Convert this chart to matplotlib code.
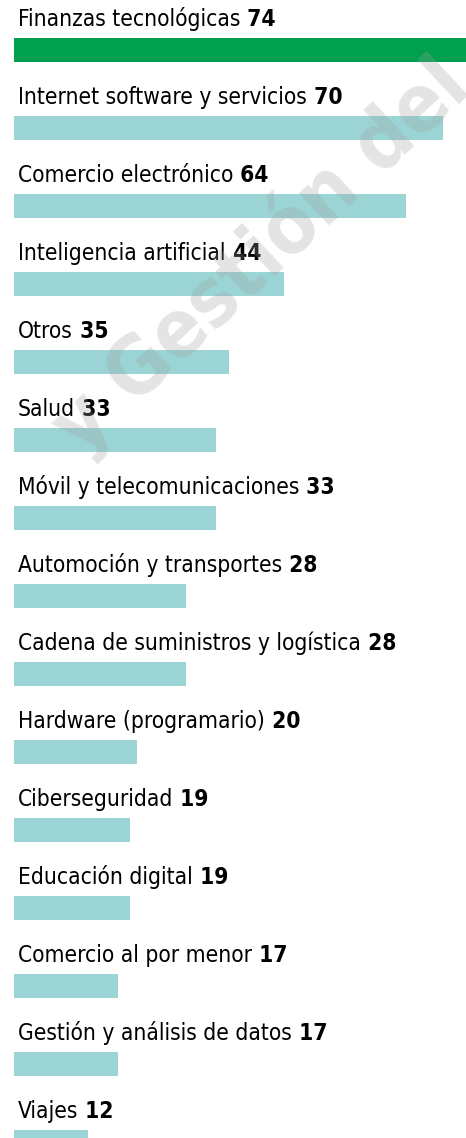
import matplotlib.pyplot as plt
import matplotlib.font_manager as fm

categories = [
    'Finanzas tecnológicas',
    'Internet software y servicios',
    'Comercio electrónico',
    'Inteligencia artificial',
    'Otros',
    'Salud',
    'Móvil y telecomunicaciones',
    'Automoción y transportes',
    'Cadena de suministros y logística',
    'Hardware (programario)',
    'Ciberseguridad',
    'Educación digital',
    'Comercio al por menor',
    'Gestión y análisis de datos',
    'Viajes',
]
values = [74, 70, 64, 44, 35, 33, 33, 28, 28, 20, 19, 19, 17, 17, 12]

GREEN = '#00a04f'
TEAL = '#9bd4d4'


def narrow_font(bold):
    # look for any installed narrow / condensed face
    want = 700 if bold else 400
    best = None
    for f in fm.fontManager.ttflist:
        narrow = ('Narrow' in f.name or 'Condensed' in f.name
                  or f.stretch in ('condensed', 'semi-condensed', 300))
        if not narrow or f.style != 'normal':
            continue
        w = f.weight if isinstance(f.weight, int) else (700 if f.weight == 'bold' else 400)
        score = abs(w - want)
        if best is None or score < best[0]:
            best = (score, f.fname)
    if best is None:
        return fm.FontProperties(family='DejaVu Sans',
                                 weight='bold' if bold else 'normal')
    return fm.FontProperties(fname=best[1])


reg = narrow_font(False)
bld = narrow_font(True)
wm = bld.copy()
reg.set_size(16.3)
bld.set_size(16.3)
wm.set_size(58)

W, H = 466, 1138
fig = plt.figure(figsize=(W / 100, H / 100), dpi=100)
ax = fig.add_axes([0, 0, 1, 1])

px = 6.13   # pixels per unit
row = 78.0  # pixels per row
ax.set_xlim(-14 / px, (W - 14) / px)
ax.set_ylim((H - 50) / row, -50 / row)
ax.axis('off')

colors = [GREEN] + [TEAL] * (len(values) - 1)
ypos = list(range(len(values)))
ax.barh(ypos, values, height=24 / row, color=colors, left=0)

for i, (name, v) in enumerate(zip(categories, values)):
    t = ax.text(4 / px, i - 24 / row, name, fontproperties=reg,
                va='baseline', ha='left', color='#000000')
    ax.annotate(' ' + str(v), xy=(1, 0), xycoords=t, va='bottom', ha='left',
                fontproperties=bld, color='#000000')

# watermark
fig.text(0.56, 0.775, 'y Gestión del', rotation=43, fontproperties=wm,
         color='#a0a0a0', alpha=0.28, ha='center', va='center', zorder=10)

fig.savefig('out.png', dpi=100)
